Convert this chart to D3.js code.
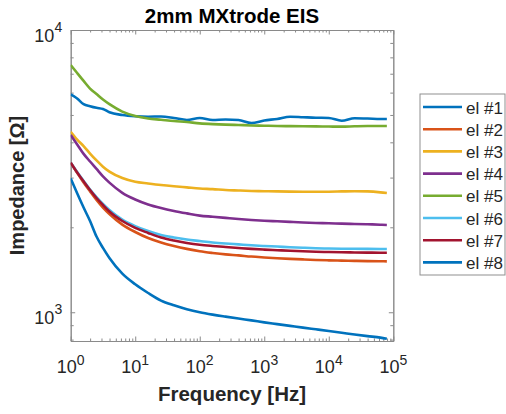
<!DOCTYPE html>
<html>
<head>
<meta charset="utf-8">
<script src="https://cdn.jsdelivr.net/npm/d3@7"></script>
<style>
  html, body { margin: 0; padding: 0; background: #fff; }
  svg { display: block; font-family: "Liberation Sans", Arial, Helvetica, sans-serif; }
  .tick line { stroke: #8a8a8a; }
  .domain { stroke: #8a8a8a; }
</style>
</head>
<body>
<svg id="chart" width="506" height="414"></svg>
<script>
// frequency points (Hz), shared by every electrode
const freq = [1, 1.259, 1.585, 1.995, 2.512, 3.162, 3.981, 6.31, 10, 15.85, 25.12, 39.81, 63.1,
    100, 158.5, 251.2, 398.1, 631, 1000, 1585, 2512, 3981, 6310, 10000, 15850, 25120, 39810, 63100, 79430];

// impedance (Ohm) per electrode
const el1 = [5910, 5720, 5460, 5370, 5300, 5250, 5110, 5000, 4950, 4930, 4940, 4880, 4800, 4880, 4800,
    4820, 4800, 4680, 4780, 4840, 4930, 4910, 4890, 4880, 4770, 4870, 4860, 4840, 4840];
const el2 = [3390, 3120, 2880, 2680, 2499, 2350, 2230, 2045, 1925, 1833, 1767, 1717, 1677, 1645, 1622,
    1603, 1590, 1575, 1564, 1554, 1546, 1539, 1532, 1527, 1524, 1521, 1518, 1516, 1515];
const el3 = [4360, 4090, 3880, 3650, 3450, 3280, 3150, 2990, 2900, 2860, 2824, 2795, 2770, 2745, 2730,
    2710, 2700, 2690, 2685, 2680, 2676, 2674, 2674, 2674, 2680, 2685, 2680, 2660, 2645];
const el4 = [4246, 3930, 3640, 3420, 3220, 3030, 2880, 2650, 2510, 2410, 2340, 2285, 2240, 2200, 2180,
    2160, 2140, 2123, 2110, 2100, 2090, 2080, 2072, 2067, 2060, 2055, 2050, 2043, 2038];
const el5 = [7516, 7040, 6600, 6200, 5930, 5670, 5460, 5140, 4960, 4860, 4810, 4760, 4720, 4670, 4640,
    4620, 4608, 4590, 4580, 4570, 4565, 4560, 4555, 4550, 4545, 4560, 4570, 4570, 4570];
const el6 = [3390, 3140, 2920, 2720, 2560, 2420, 2303, 2130, 2020, 1940, 1878, 1840, 1810, 1788, 1767,
    1752, 1740, 1727, 1717, 1709, 1700, 1693, 1686, 1682, 1679, 1678, 1677, 1676, 1676];
const el7 = [3390, 3130, 2910, 2712, 2540, 2399, 2275, 2105, 1990, 1910, 1840, 1795, 1760, 1734, 1717,
    1703, 1690, 1677, 1667, 1659, 1651, 1644, 1638, 1634, 1631, 1629, 1627, 1625, 1625];
const el8 = [2980, 2640, 2350, 2105, 1855, 1690, 1557, 1370, 1256, 1170, 1100, 1058, 1025, 1000, 981,
    965, 950, 936, 921, 908, 895, 882, 870, 858, 846, 834, 823, 813, 805];

const names = ['el #1', 'el #2', 'el #3', 'el #4', 'el #5', 'el #6', 'el #7', 'el #8'];
const series = [el1, el2, el3, el4, el5, el6, el7, el8];
const xMajor = [1, 10, 100, 1000, 10000, 100000];
const yMajor = [1000, 10000];

const colors = ['#0072BD', '#D95319', '#EDB120', '#7E2F8E', '#77AC30', '#4DBEEE', '#A2142F', '#0072BD'];

const pL = 70.7, pR = 393.3, pT = 30, pB = 341;

const svg = d3.select('#chart');

const x = d3.scaleLog().domain([1, 1e5]).range([pL, pR]);
const y = d3.scaleLog().domain([791, 1e4]).range([pB, pT]);

// minor log ticks 2..9 per decade
const minorsIn = (lo, hi) => {
    const out = [];
    for (let d = Math.floor(Math.log10(lo)); d <= Math.ceil(Math.log10(hi)); d++) {
        for (let m = 2; m <= 9; m++) {
            const v = m * Math.pow(10, d);
            if (v > lo && v < hi) out.push(v);
        }
    }
    return out;
};
const xMinor = minorsIn(1, 1e5);
const yMinor = minorsIn(791, 1e4);

let addAxis = (axis, tx, ty) => {
    svg.append('g')
        .attr('transform', `translate(${tx},${ty})`)
        .call(axis)
        .call(g => g.selectAll('text').remove());
};

// major + minor ticks on all four sides, pointing inward
addAxis(d3.axisBottom(x).tickValues(xMajor).tickSizeInner(-4.5).tickSizeOuter(0), 0, pB);
addAxis(d3.axisBottom(x).tickValues(xMinor).tickSizeInner(-2.5).tickSizeOuter(0), 0, pB);
addAxis(d3.axisTop(x).tickValues(xMajor).tickSizeInner(-4.5).tickSizeOuter(0), 0, pT);
addAxis(d3.axisTop(x).tickValues(xMinor).tickSizeInner(-2.5).tickSizeOuter(0), 0, pT);
addAxis(d3.axisLeft(y).tickValues(yMajor).tickSizeInner(-4.5).tickSizeOuter(0), pL, 0);
addAxis(d3.axisLeft(y).tickValues(yMinor).tickSizeInner(-3).tickSizeOuter(0), pL, 0);
addAxis(d3.axisRight(y).tickValues(yMajor).tickSizeInner(-4.5).tickSizeOuter(0), pR, 0);
addAxis(d3.axisRight(y).tickValues(yMinor).tickSizeInner(-3).tickSizeOuter(0), pR, 0);

// tick labels as 10^n
const xLab = svg.append('g').selectAll('text')
    .data(xMajor)
    .join('text')
    .attr('x', d => x(d))
    .attr('y', pB + 32)
    .attr('text-anchor', 'middle')
    .attr('font-size', 18)
    .attr('fill', '#262626')
    .text('10');
xLab.append('tspan')
    .attr('dy', -8.5)
    .attr('font-size', 14)
    .text(d => Math.round(Math.log10(d)));

const yLab = svg.append('g').selectAll('text')
    .data(yMajor)
    .join('text')
    .attr('x', pL - 8.5)
    .attr('y', d => y(d) + 11.5)
    .attr('text-anchor', 'end')
    .attr('font-size', 18)
    .attr('fill', '#262626')
    .text('10');
yLab.append('tspan')
    .attr('dy', -9.5)
    .attr('font-size', 14)
    .text(d => Math.round(Math.log10(d)));

// curves
svg.append('defs').append('clipPath').attr('id', 'plot')
    .append('rect')
    .attr('x', pL).attr('y', pT)
    .attr('width', pR - pL).attr('height', pB - pT);

const line = d3.line()
    .x((d, i) => x(freq[i]))
    .y(d => y(d))
    .curve(d3.curveMonotoneX);

svg.append('g')
    .attr('clip-path', 'url(#plot)')
    .selectAll('path')
    .data(series)
    .join('path')
    .attr('d', line)
    .attr('fill', 'none')
    .attr('stroke', (d, i) => colors[i])
    .attr('stroke-width', 2.6)
    .attr('stroke-linejoin', 'round');

// titles
svg.append('text')
    .attr('x', (pL + pR) / 2)
    .attr('y', 22.5)
    .attr('text-anchor', 'middle')
    .attr('font-size', 20.5)
    .attr('font-weight', 'bold')
    .attr('fill', '#000')
    .text('2mm MXtrode EIS');

svg.append('text')
    .attr('x', (pL + pR) / 2)
    .attr('y', 401)
    .attr('text-anchor', 'middle')
    .attr('font-size', 20.5)
    .attr('font-weight', 'bold')
    .attr('fill', '#262626')
    .text('Frequency [Hz]');

svg.append('text')
    .attr('transform', `translate(24,${(pT + pB) / 2}) rotate(-90)`)
    .attr('text-anchor', 'middle')
    .attr('font-size', 20)
    .attr('font-weight', 'bold')
    .attr('fill', '#262626')
    .text('Impedance [Ω]');

// legend
const lg = svg.append('g');
lg.append('rect')
    .attr('x', 420).attr('y', 94)
    .attr('width', 85).attr('height', 181)
    .attr('fill', '#fff')
    .attr('stroke', '#8f8f8f');

const row = lg.selectAll('g.row')
    .data(names)
    .join('g')
    .attr('class', 'row')
    .attr('transform', (d, i) => `translate(0,${107 + i * 22.2})`);

row.append('line')
    .attr('x1', 423).attr('x2', 462)
    .attr('stroke', (d, i) => colors[i])
    .attr('stroke-width', 2.6);

row.append('text')
    .attr('x', 466)
    .attr('y', 6.5)
    .attr('font-size', 17)
    .attr('fill', '#262626')
    .text(d => d);
</script>
</body>
</html>
